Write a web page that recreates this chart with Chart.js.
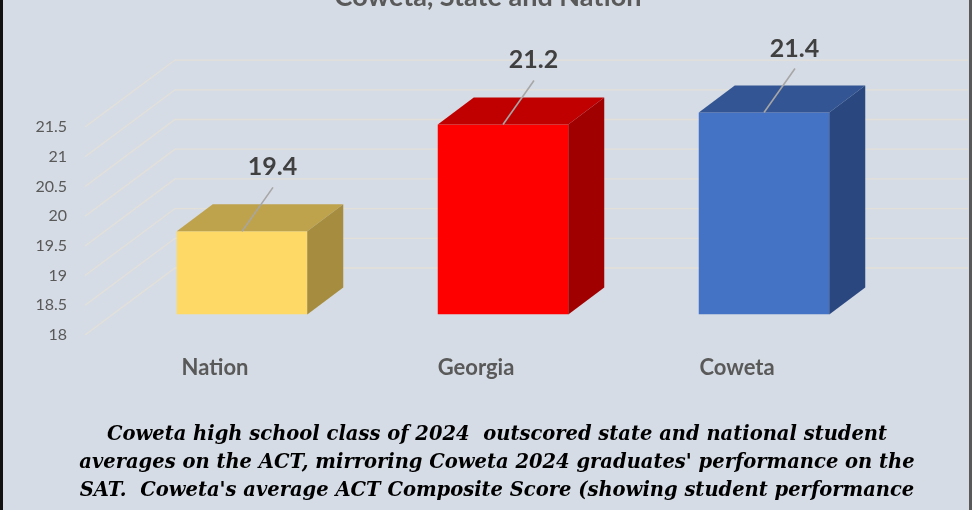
<!DOCTYPE html>
<html><head><meta charset="utf-8">
<script src="https://cdn.jsdelivr.net/npm/chart.js@4.4.1/dist/chart.umd.min.js"></script>
<style>
html,body{margin:0;padding:0;width:972px;height:510px;overflow:hidden;background:#D6DCE5;}
#wrap{position:absolute;left:0;top:-24px;width:972px;height:534px;}
#caption{position:absolute;left:11px;top:420px;width:972px;text-align:center;font:italic bold 19.5px "DejaVu Serif",serif;line-height:28px;color:#000;white-space:nowrap;}
#frame{position:absolute;left:0;top:0;width:972px;height:510px;box-sizing:border-box;border-left:3px solid #111;border-right:3px solid #595959;pointer-events:none;}
</style></head>
<body>
<div id="wrap"><canvas id="c"></canvas></div>
<div id="caption">Coweta high school class of 2024&nbsp; outscored state and national student<br>averages on the ACT, mirroring Coweta 2024 graduates' performance on the<br>SAT.&nbsp; Coweta's average ACT Composite Score (showing student performance</div>
<div id="frame"></div>
<script>
const CATEGORIES = ['Nation', 'Georgia', 'Coweta'];
const SCORES = [19.4, 21.2, 21.4];
const BASE_SCORE = 18;
const Y_TICKS = [18, 18.5, 19, 19.5, 20, 20.5, 21, 21.5];
const Y_TICK_LABELS = ['18', '18.5', '19', '19.5', '20', '20.5', '21', '21.5'];
const FRONT_COLORS = ['#FFD966', '#FF0000', '#4472C4'];
const TOP_COLORS = ['#BFA24C', '#C00000', '#335593'];
const SIDE_COLORS = ['#A68C3E', '#A00000', '#2A4780'];
const TITLE = 'Coweta, State and Nation';

const DX = 36, DY = -27;

function poly(ctx, pts, fill) {
  ctx.beginPath();
  ctx.moveTo(pts[0][0], pts[0][1]);
  for (let i = 1; i < pts.length; i++) ctx.lineTo(pts[i][0], pts[i][1]);
  ctx.closePath();
  ctx.fillStyle = fill;
  ctx.fill();
}

const threeD = {
  id: 'threeD',
  beforeDatasetsDraw(chart) {
    const { ctx, chartArea: a, scales: { y } } = chart;
    ctx.save();
    ctx.strokeStyle = '#E3E0D9';
    ctx.lineWidth = 1.3;
    Y_TICKS.forEach(v => {
      const py = y.getPixelForValue(v);
      ctx.beginPath();
      ctx.moveTo(a.left - 26.5, py + 20.5);
      ctx.lineTo(a.left + 63.5, py - 46.5);
      ctx.lineTo(a.right + 73.5, py - 46.5);
      ctx.stroke();
    });
    ctx.restore();
  },
  afterDatasetsDraw(chart) {
    const { ctx } = chart;
    const meta = chart.getDatasetMeta(0);
    ctx.save();
    meta.data.forEach((bar, i) => {
      const p = bar.getProps(['x', 'y', 'base', 'width'], true);
      const l = p.x - p.width / 2, r = p.x + p.width / 2, t = p.y, b = p.base;
      poly(ctx, [[l, t], [l + DX, t + DY], [r + DX, t + DY], [r, t]], TOP_COLORS[i]);
      poly(ctx, [[r, t], [r + DX, t + DY], [r + DX, b + DY], [r, b]], SIDE_COLORS[i]);
      ctx.strokeStyle = '#A6A6A6';
      ctx.lineWidth = 1.6;
      ctx.beginPath();
      ctx.moveTo(p.x, t);
      ctx.lineTo(p.x + 31, t - 44);
      ctx.stroke();
      ctx.fillStyle = '#404040';
      ctx.font = 'bold 25px Lato, "Open Sans", sans-serif';
      ctx.textAlign = 'center';
      ctx.textBaseline = 'middle';
      ctx.fillText(String(SCORES[i]), p.x + 30.5, t - 64);
    });
    ctx.restore();
  }
};

new Chart(document.getElementById('c'), {
  type: 'bar',
  data: {
    labels: CATEGORIES,
    datasets: [{
      data: SCORES,
      base: BASE_SCORE,
      backgroundColor: FRONT_COLORS,
      borderWidth: 0,
      barPercentage: 0.5,
      categoryPercentage: 1
    }]
  },
  options: {
    responsive: true,
    maintainAspectRatio: false,
    animation: false,
    layout: { padding: { left: 4, right: 0, top: 0, bottom: 0 } },
    plugins: {
      legend: { display: false },
      tooltip: { enabled: false },
      title: {
        display: true,
        text: TITLE,
        color: '#595959',
        font: { family: 'Lato, sans-serif', size: 27, weight: 'bold', lineHeight: 1.2 },
        padding: { top: 5, bottom: 93.2 }
      }
    },
    scales: {
      x: {
        grid: { display: false, drawTicks: false },
        border: { display: false },
        ticks: {
          color: '#595959',
          font: { family: 'Lato, sans-serif', size: 22, weight: 'bold' },
          labelOffset: -27,
          padding: 40
        },
        afterFit(axis) { axis.height = 195.5; }
      },
      y: {
        min: 18,
        max: 21.5,
        grid: { display: false, drawTicks: false },
        border: { display: false },
        afterBuildTicks(axis) { axis.ticks = Y_TICKS.map(v => ({ value: v })); },
        ticks: {
          color: '#595959',
          font: { family: 'Lato, sans-serif', size: 16 },
          labelOffset: 20.5,
          padding: 44.5,
          callback: (v, i) => Y_TICK_LABELS[i]
        },
        afterFit(axis) { axis.width = 107.5; }
      },
      yRight: {
        position: 'right',
        min: 18,
        max: 21.5,
        grid: { display: false, drawTicks: false },
        border: { display: false },
        ticks: { display: false },
        afterFit(axis) { axis.width = 77.5; }
      }
    }
  },
  plugins: [threeD]
});
</script>
</body></html>
